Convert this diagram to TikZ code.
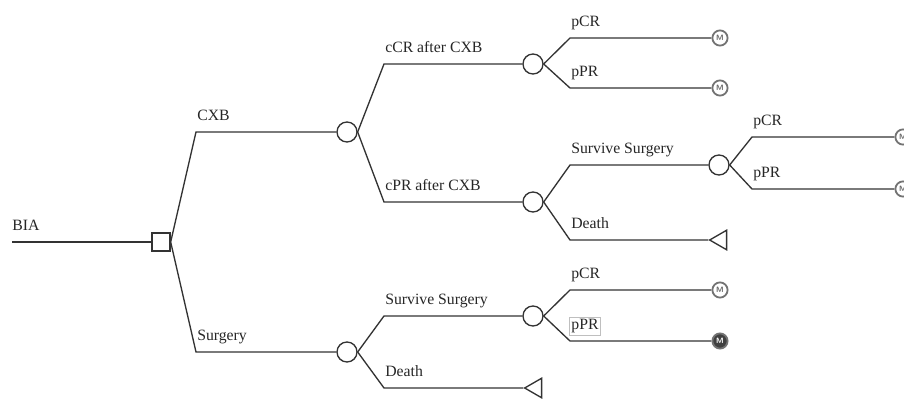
\documentclass[tikz,border=0pt]{standalone}
\usepackage{fontspec}
\setmainfont{Liberation Serif}
\usetikzlibrary{shapes.geometric}

\begin{document}
\begin{tikzpicture}[x=0.025cm,y=-0.025cm]
  \tikzset{branch/.style = {draw=black!80, line width=0.95pt}}
  \tikzset{decision/.style = {shape=rectangle,draw=black!80,line width=0.95pt,fill=white,minimum size=0.45cm,inner sep=0pt}}
  \tikzset{chance/.style = {shape=circle,draw=black!80,line width=0.95pt,fill=white,minimum size=0.5cm,inner sep=0pt}}
  \tikzset{terminal/.style = {shape=regular polygon,regular polygon sides=3,shape border rotate=90,draw=black!80,line width=0.95pt,fill=white,minimum size=0.565cm,inner sep=0pt}}
  \tikzset{markov/.style = {shape=circle,draw=black!55,line width=1.3pt,fill=white,text=black!60,minimum size=0.38cm,inner sep=0pt,font=\sffamily\bfseries\fontsize{5.5}{6}\selectfont}}
  \tikzset{markovfill/.style = {markov, fill=black!75, text=white}}
  \tikzset{lbl/.style = {anchor=base west,inner sep=0pt,text=black!85,font=\fontsize{11.2}{13}\selectfont}}
  \tikzset{lblbox/.style = {lbl, draw=black!25, line width=0.5pt, inner sep=1.5pt}}

  \useasboundingbox (0,0) rectangle (904,399);

  % decision, chance and terminal nodes
  \coordinate (start) at (12,242);
  \node[decision] (dec) at (161,242) {};
  \node[chance] (cxb) at (347,132) {};
  \node[chance] (sur) at (347,352) {};
  \node[chance] (ccr) at (533,64) {};
  \node[chance] (cpr) at (533,202) {};
  \node[chance] (ss1) at (719,165) {};
  \node[chance] (ss2) at (533,316) {};
  \node[terminal] (t1) at (721,240) {};
  \node[terminal] (t2) at (536,388) {};
  \node[markov] (m1) at (720,38) {M};
  \node[markov] (m2) at (720,88) {M};
  \node[markov] (m3) at (903,137) {M};
  \node[markov] (m4) at (903,189) {M};
  \node[markov] (m5) at (720,290) {M};
  \node[markovfill] (m6) at (720,341) {M};

  % bends of the branches
  \coordinate (bCXB) at (196,132);
  \coordinate (bSUR) at (196,352);
  \coordinate (bCCR) at (384,64);
  \coordinate (bCPR) at (384,202);
  \coordinate (bM1) at (570,38);
  \coordinate (bM2) at (570,88);
  \coordinate (bSS1) at (570,165);
  \coordinate (bT1) at (570,240);
  \coordinate (bM3) at (752,137);
  \coordinate (bM4) at (752,189);
  \coordinate (bSS2) at (384,316);
  \coordinate (bT2) at (384,388);
  \coordinate (bM5) at (570,290);
  \coordinate (bM6) at (570,341);

  \draw[branch] (start) -- (dec);
  \foreach \from/\via/\to in {dec.east/bCXB/cxb, dec.east/bSUR/sur, cxb.east/bCCR/ccr, cxb.east/bCPR/cpr,
      ccr.east/bM1/m1, ccr.east/bM2/m2, cpr.east/bSS1/ss1, cpr.east/bT1/t1, ss1.east/bM3/m3, ss1.east/bM4/m4,
      sur.east/bSS2/ss2, sur.east/bT2/t2, ss2.east/bM5/m5, ss2.east/bM6/m6}
    \draw[branch] (\from) -- (\via) -- (\to);

  % labels
  \node[lbl] (lBIA) at ([shift={(0,-11)}]start) {BIA};
  \foreach \via/\txt in {bCXB/CXB, bSUR/Surgery, bCCR/cCR after CXB, bCPR/cPR after CXB, bM1/pCR, bM2/pPR,
      bSS1/Survive Surgery, bT1/Death, bM3/pCR, bM4/pPR, bSS2/Survive Surgery, bT2/Death, bM5/pCR}
    \node[lbl] (l\via) at ([shift={(1,-11)}]\via) {\txt};
  \node[lblbox] (lbM6) at ([shift={(-1,-11)}]bM6) {pPR};

\end{tikzpicture}
\end{document}
